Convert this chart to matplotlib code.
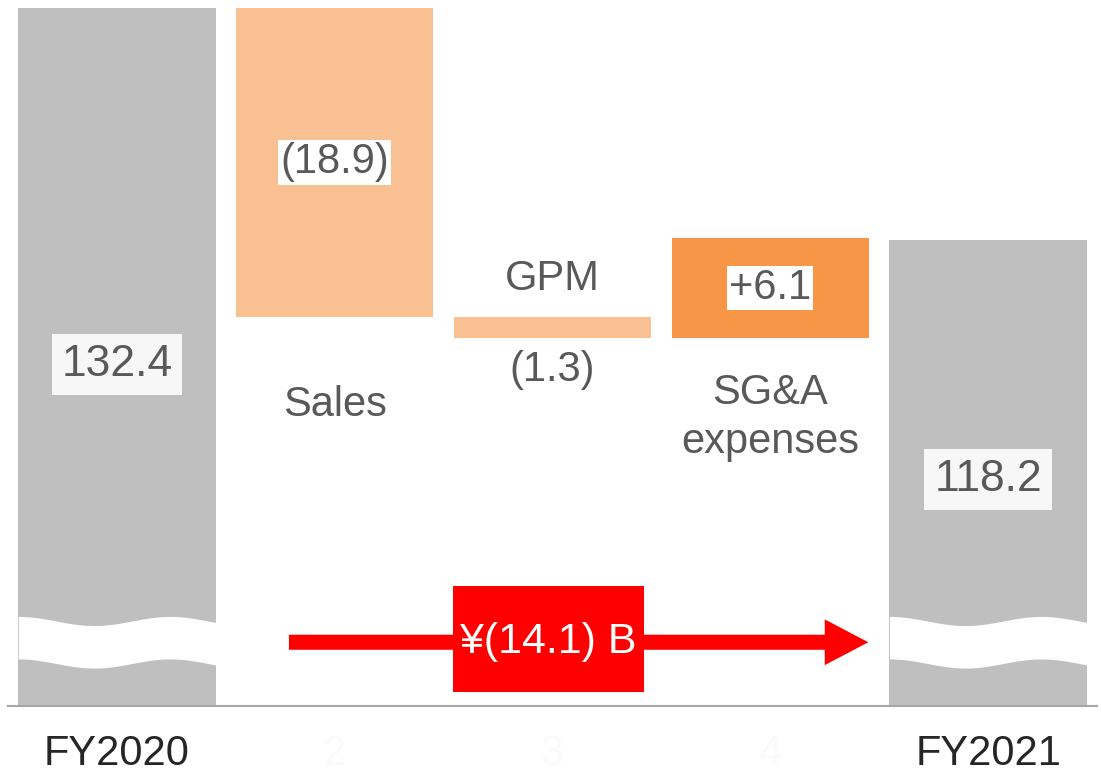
import numpy as np
import matplotlib.pyplot as plt
from matplotlib.patches import Rectangle, FancyArrow

plt.rcParams['font.family'] = ['Liberation Sans', 'DejaVu Sans']

categories = ['FY2020', '2', '3', '4', 'FY2021']
names = ['', 'Sales', 'GPM', 'SG&A\nexpenses', '']
start_total = 132.4
deltas = [-18.9, -1.3, 6.1]
end_total = 118.2
total_change = -14.1

gray = '#bfbfbf'
light_orange = '#f9c191'
orange = '#f79646'
txt = '#595959'

fig = plt.figure(figsize=(11.01, 7.79), dpi=100)
ax = fig.add_axes([8 / 1101, 73 / 779, 1089 / 1101, 698 / 779])
ymin = 89.7
ax.set_xlim(-0.5, 4.5)
ax.set_ylim(ymin, start_total)

w = 0.906
x = np.arange(len(categories))

# totals
ax.bar(x[0], start_total, width=w, color=gray)
ax.bar(x[4], end_total, width=w, color=gray)

# deltas
run = start_total
colors = [light_orange, light_orange, orange]
bottoms = []
for i, d in enumerate(deltas):
    lo = run + min(d, 0)
    ax.bar(x[i + 1], abs(d), bottom=lo, width=w, color=colors[i])
    bottoms.append((lo, lo + abs(d)))
    run += d

# wavy break over total bars
for xi in (x[0], x[4]):
    xs = np.linspace(xi - w / 2, xi + w / 2, 200)
    ph = (xs - (xi - w / 2)) / w * 2 * np.pi * 1.3
    top = 94.9 + 0.28 * np.cos(ph)
    bot = 92.3 + 0.28 * np.cos(ph)
    ax.fill_between(xs, bot, top, color='white', zorder=3, linewidth=0)

# value labels
tot_box = dict(boxstyle='square,pad=0.22', fc='#f7f7f7', ec='none')
ax.text(x[0], (ymin + start_total) / 2 - 0.45, f'{start_total:.1f}', ha='center', va='center',
        fontsize=32, color=txt, bbox=tot_box)
ax.text(x[4], (ymin + end_total) / 2 - 0.4, f'{end_total:.1f}', ha='center', va='center',
        fontsize=32, color=txt, bbox=tot_box)

def fmt(d):
    return f'({abs(d):.1f})' if d < 0 else f'+{d:.1f}'

lo, hi = bottoms[0]
ax.text(x[1], (lo + hi) / 2, fmt(deltas[0]), ha='center', va='center', fontsize=30,
        color=txt, bbox=dict(boxstyle='square,pad=0.05', fc='white', ec='none'))
ax.text(x[1], lo - 5.4, names[1], ha='center', va='center', fontsize=30, color=txt)

lo, hi = bottoms[1]
ax.text(x[2], hi + 2.3, names[2], ha='center', va='center', fontsize=30, color=txt)
ax.text(x[2], lo - 1.95, fmt(deltas[1]), ha='center', va='center', fontsize=30,
        color=txt, bbox=dict(boxstyle='square,pad=0.05', fc='white', ec='none'))

lo, hi = bottoms[2]
ax.text(x[3], (lo + hi) / 2, fmt(deltas[2]), ha='center', va='center', fontsize=30,
        color=txt, bbox=dict(boxstyle='square,pad=0.05', fc='white', ec='none'))
ax.text(x[3], lo - 4.85, names[3], ha='center', va='center', fontsize=30, color=txt,
        linespacing=1.3)

# overall change arrow
ay = 93.6
ax.add_patch(FancyArrow(0.79, ay, 3.45 - 0.79, 0, width=0.92, head_width=2.8,
                        head_length=0.2, length_includes_head=True,
                        color='#ff0000', zorder=4, linewidth=0))
ax.add_patch(Rectangle((1.545, 90.54), 2.42 - 1.545, 97.03 - 90.54,
                       color='#ff0000', zorder=5, linewidth=0))
ax.text((1.545 + 2.42) / 2, ay, f'¥({abs(total_change):.1f}) B', ha='center', va='center',
        fontsize=31, color='white', zorder=6)

# axes
for s in ['top', 'right', 'left']:
    ax.spines[s].set_visible(False)
ax.spines['bottom'].set_color('#a6a6a6')
ax.spines['bottom'].set_linewidth(1.5)
ax.set_yticks([])
ax.set_xticks(x)
ax.set_xticklabels(categories, fontsize=30)
ax.tick_params(axis='x', length=0, pad=20)
for i, lab in enumerate(ax.get_xticklabels()):
    lab.set_color('#262626' if i in (0, 4) else '#fafafa')

plt.savefig('out.png', dpi=100)
